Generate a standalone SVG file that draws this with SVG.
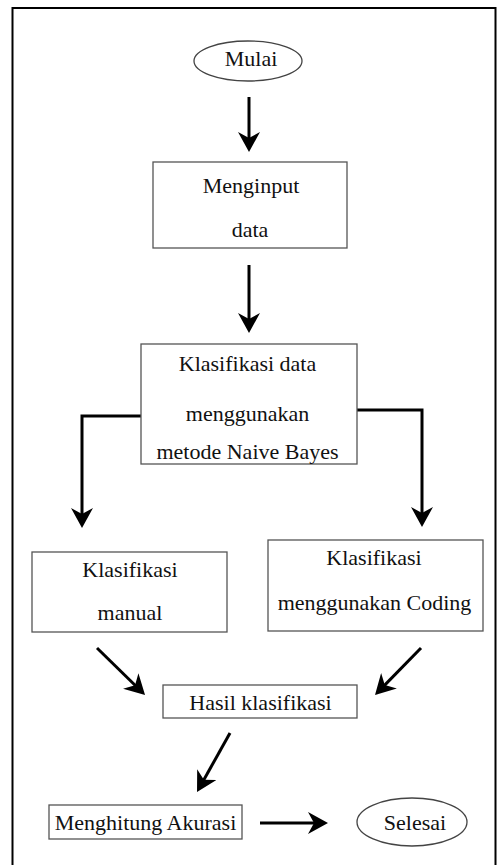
<svg xmlns="http://www.w3.org/2000/svg" width="499" height="865" viewBox="0 0 499 865">
<style>
  .box { fill: #ffffff; stroke: #555555; stroke-width: 1.3; }
  .term { fill: #ffffff; stroke: #444444; stroke-width: 1.3; }
  .lbl { font-family: "Liberation Serif", "Times New Roman", serif; font-size: 22px; fill: #111111; text-anchor: middle; }
  .conn { fill: none; stroke: #000000; stroke-width: 3; marker-end: url(#head); }
  .frame { fill: none; stroke: #000000; stroke-width: 2; }
</style>
<defs>
  <marker id="head" viewBox="0 0 20 22" refX="10" refY="11" markerWidth="20" markerHeight="22" markerUnits="userSpaceOnUse" orient="auto">
    <path d="M0,0 L20,11 L0,22 L6,11 Z" fill="#000000"/>
  </marker>
</defs>
<rect width="499" height="865" fill="#ffffff"/>
<rect class="frame" x="12.5" y="8" width="483" height="870"/>

<g id="connectors">
  <path class="conn" d="M249,97 V142"/>
  <path class="conn" d="M249,265 V323"/>
  <path class="conn" d="M141,416 H82 V518"/>
  <path class="conn" d="M357,410 H422 V517"/>
  <path class="conn" d="M97,648 L137.9,688"/>
  <path class="conn" d="M421,648 L382,687.9"/>
  <path class="conn" d="M230,733 L201.9,783.3"/>
  <path class="conn" d="M260,823 H318"/>
</g>

<g id="mulai">
  <ellipse class="term" cx="248" cy="61" rx="54" ry="20"/>
  <text class="lbl" x="251" y="66">Mulai</text>
</g>

<g id="menginput">
  <rect class="box" x="153" y="162" width="194" height="86"/>
  <text class="lbl" x="251" y="193">Menginput</text>
  <text class="lbl" x="250" y="237">data</text>
</g>

<g id="klasifikasi-nb">
  <rect class="box" x="141" y="344" width="216" height="120"/>
  <text class="lbl" x="247.5" y="371">Klasifikasi data</text>
  <text class="lbl" x="247.5" y="421">menggunakan</text>
  <text class="lbl" x="247.5" y="459">metode Naive Bayes</text>
</g>

<g id="klasifikasi-manual">
  <rect class="box" x="32" y="552" width="195" height="80"/>
  <text class="lbl" x="130" y="577">Klasifikasi</text>
  <text class="lbl" x="130" y="620">manual</text>
</g>

<g id="klasifikasi-coding">
  <rect class="box" x="268" y="540" width="215" height="91"/>
  <text class="lbl" x="374" y="565">Klasifikasi</text>
  <text class="lbl" x="374.5" y="610">menggunakan Coding</text>
</g>

<g id="hasil">
  <rect class="box" x="163" y="685" width="194" height="33"/>
  <text class="lbl" x="260.5" y="710">Hasil klasifikasi</text>
</g>

<g id="akurasi">
  <rect class="box" x="49" y="805" width="193" height="34"/>
  <text class="lbl" x="145.5" y="830">Menghitung Akurasi</text>
</g>

<g id="selesai">
  <ellipse class="term" cx="412" cy="822" rx="55" ry="24"/>
  <text class="lbl" x="415" y="830">Selesai</text>
</g>
</svg>
